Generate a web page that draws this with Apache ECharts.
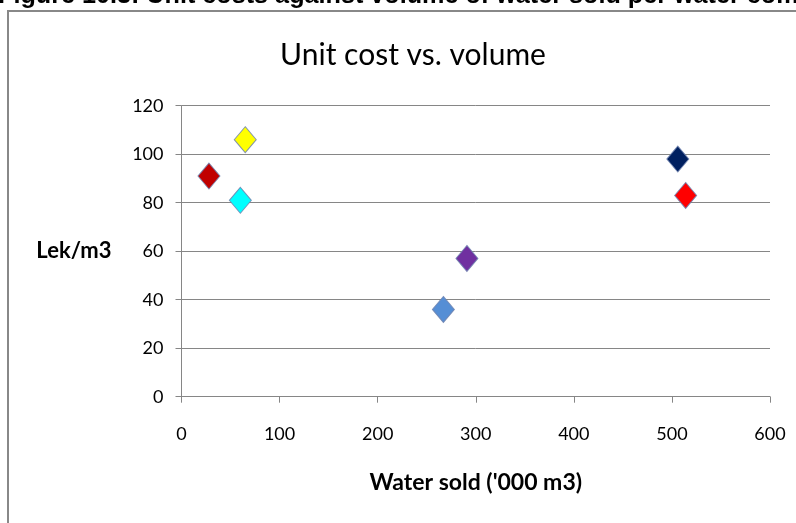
<!DOCTYPE html>
<html>
<head>
<meta charset="utf-8">
<script src="https://cdn.jsdelivr.net/npm/echarts@6/dist/echarts.min.js"></script>
<style>
  html, body { margin: 0; padding: 0; background: #fff; }
  #chart { width: 796px; height: 523px; }
</style>
</head>
<body>
<div id="chart"></div>
<script>
// Water utilities: volume sold ('000 m3) and unit cost (Lek/m3)
const volumeSold = [28, 65, 60, 267, 291, 506, 514];
const unitCost   = [91, 106, 81, 36, 57, 98, 83];
const pointColors = ['#C00000', '#FFFF00', '#00FFFF', '#558ED5', '#7030A0', '#002060', '#FF0000'];
const xTicks = [0, 100, 200, 300, 400, 500, 600];
const yTicks = [0, 20, 40, 60, 80, 100, 120];

const chart = echarts.init(document.getElementById('chart'), null, { renderer: 'canvas' });

const series = volumeSold.map((v, i) => ({
  type: 'scatter',
  symbol: 'diamond',
  symbolSize: [22, 26],
  data: [[v, unitCost[i]]],
  itemStyle: { color: pointColors[i], borderColor: 'rgba(110,130,175,0.85)', borderWidth: 1, opacity: 1 },
  z: 5
}));

const labelFont = 'Lato, "Open Sans", sans-serif';

chart.setOption({
  animation: false,
  backgroundColor: '#ffffff',
  grid: { left: 181.5, right: 26, top: 105.7, bottom: 126.3 },
  title: {
    text: 'Unit cost vs. volume',
    left: 408, top: 35, textAlign: 'center',
    textStyle: { fontFamily: labelFont, fontSize: 30, fontWeight: 'normal', color: '#000' }
  },
  xAxis: {
    type: 'value', min: xTicks[0], max: xTicks[xTicks.length - 1], interval: 100,
    name: "Water sold ('000 m3)", nameLocation: 'middle', nameGap: 74,
    nameTextStyle: { fontFamily: labelFont, fontSize: 23, fontWeight: 'bold', color: '#000' },
    axisLine: { show: true, lineStyle: { color: '#868686', width: 1 } },
    axisTick: { show: true, length: 6, lineStyle: { color: '#868686' } },
    axisLabel: { fontFamily: labelFont, fontSize: 18, color: '#000', margin: 28 },
    splitLine: { show: false }
  },
  yAxis: {
    type: 'value', min: yTicks[0], max: yTicks[yTicks.length - 1], interval: 20,
    name: 'Lek/m3', nameLocation: 'middle', nameGap: 70, nameRotate: 0,
    nameTextStyle: { fontFamily: labelFont, fontSize: 22, fontWeight: 'bold', color: '#000' },
    axisLine: { show: true, lineStyle: { color: '#868686', width: 1 } },
    axisTick: { show: true, length: 6, lineStyle: { color: '#868686' } },
    axisLabel: { fontFamily: labelFont, fontSize: 18, color: '#000', margin: 18 },
    splitLine: { show: true, lineStyle: { color: '#868686', width: 1 } }
  },
  graphic: [
    {
      type: 'rect', z: 0, silent: true,
      shape: { x: 8, y: 11, width: 900, height: 700 },
      style: { fill: null, stroke: '#888888', lineWidth: 2 }
    },
    {
      type: 'text', z: 10, silent: true, left: -2, top: -16,
      style: {
        text: 'Figure 10.3: Unit costs against volume of water sold per water companies',
        font: 'bold 25.2px "Liberation Sans", Arial, sans-serif', fill: '#000'
      }
    }
  ],
  series: series
});
</script>
</body>
</html>
